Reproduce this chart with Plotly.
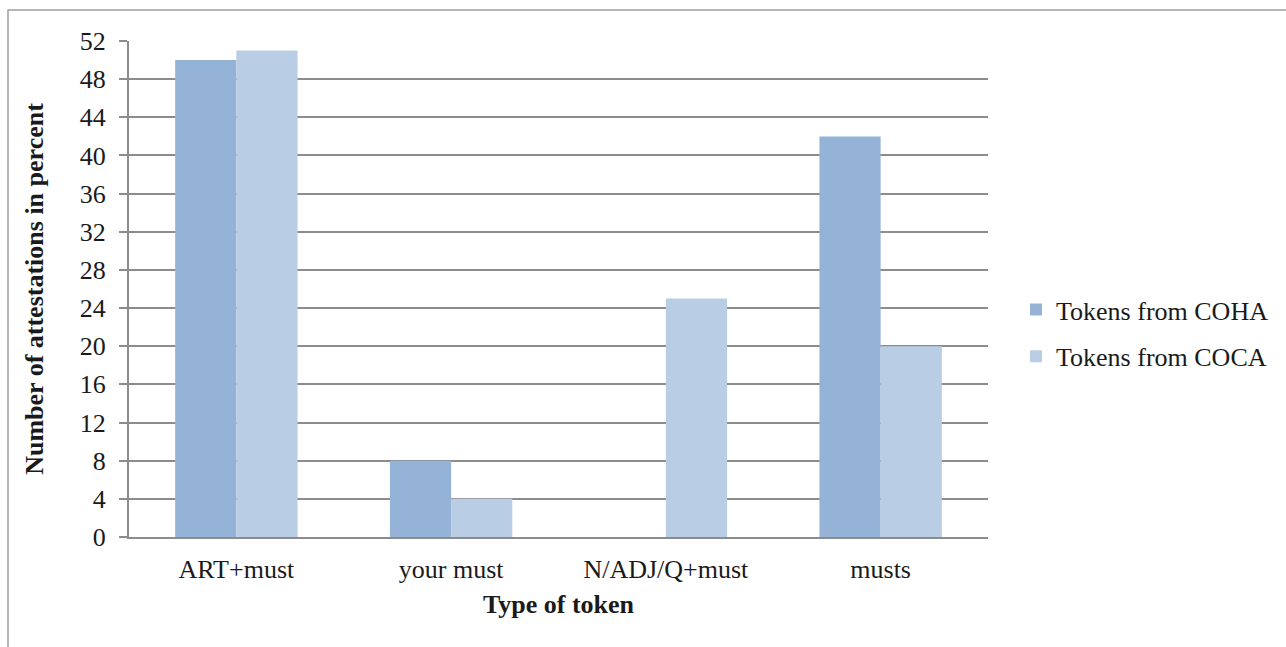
import plotly.graph_objects as go

categories = ["ART+must", "your must", "N/ADJ/Q+must", "musts"]
coha = [50, 8, 0, 42]
coca = [51, 4, 25, 20]
y_ticks = list(range(0, 53, 4))

serif = "Liberation Serif, Times New Roman, serif"
grid_col = "#8c8c8c"
txt = "#1a1a1a"
FS = 26

fig = go.Figure()
fig.add_trace(go.Bar(name="Tokens from COHA", x=categories, y=coha,
                     marker=dict(color="#95b3d7", line=dict(width=0)),
                     legendgroup="a"))
fig.add_trace(go.Bar(name="Tokens from COCA", x=categories, y=coca,
                     marker=dict(color="#b9cde5", line=dict(width=0)),
                     legendgroup="b"))

L, R, T, B = 129, 988, 41, 537
W, H = 1286, 647

fig.update_layout(
    width=W, height=H,
    margin=dict(l=L, r=W - R, t=T, b=H - B, autoexpand=False),
    paper_bgcolor="white", plot_bgcolor="white",
    barmode="group", bargap=0.43, bargroupgap=0,
    font=dict(family=serif, size=FS, color=txt),
    showlegend=True,
    legend=dict(x=1.0326, xanchor="left", y=0.411, yanchor="middle",
                xref="paper", yref="paper",
                font=dict(family=serif, size=FS, color=txt),
                tracegroupgap=10, itemwidth=30,
                bgcolor="rgba(0,0,0,0)"),
    xaxis=dict(
        showgrid=False, showline=True, linecolor=grid_col, linewidth=2,
        ticks="", ticklabelstandoff=8,
        tickfont=dict(family=serif, size=FS, color=txt),
        title=dict(text="<b>Type of token</b>", standoff=12,
                   font=dict(family=serif, size=FS, color=txt)),
    ),
    yaxis=dict(
        range=[0, 52], tickvals=y_ticks, ticktext=[str(v) for v in y_ticks],
        showgrid=True, gridcolor=grid_col, gridwidth=1.6,
        showline=True, linecolor=grid_col, linewidth=2,
        ticks="outside", ticklen=8, tickcolor=grid_col, tickwidth=1.6,
        ticklabelstandoff=8, zeroline=False,
        tickfont=dict(family=serif, size=FS, color=txt),
        title=dict(text="<b>Number of attestations in percent</b>", standoff=29,
                   font=dict(family=serif, size=FS, color=txt)),
    ),
)

# outer chart frame
fig.add_shape(type="rect", xref="paper", yref="paper",
              x0=(8 - L) / (R - L), x1=1.6,
              y0=-0.6, y1=(B - 10) / (B - T),
              line=dict(color="#a0a0a0", width=1.5), layer="below")

fig.write_html("out.html")
